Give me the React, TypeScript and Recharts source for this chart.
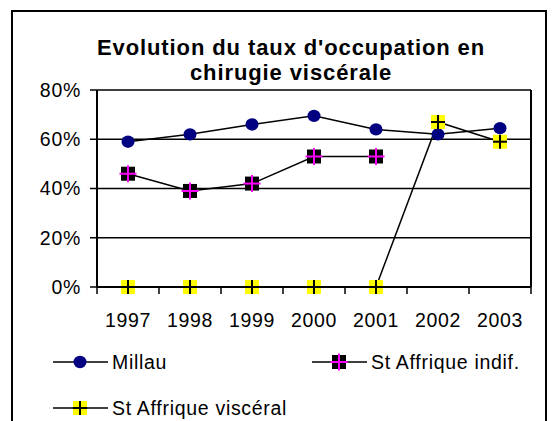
import React from "react";
import { LineChart, Line, XAxis, YAxis, CartesianGrid, ReferenceLine, Legend } from "recharts";

const years = ["1997", "1998", "1999", "2000", "2001", "2002", "2003"];
const millau = [59, 62, 66, 69.5, 64, 62, 64.5];
const stAffriqueIndif: (number | null)[] = [46, 39, 42, 53, 53, null, null];
const stAffriqueVisceral = [0, 0, 0, 0, 0, 67, 59];
const yTicks = [0, 20, 40, 60, 80];

const FONT = "'Liberation Sans', Arial, sans-serif";
const W = 553;
const H = 421;
const PLOT_LEFT = 97;
const PLOT_RIGHT = 531;
const HALF_STEP = (PLOT_RIGHT - PLOT_LEFT) / years.length / 2;

const data = years.map((year, i) => ({
  x: i + 0.5,
  year,
  millau: millau[i],
  indif: stAffriqueIndif[i],
  visceral: stAffriqueVisceral[i],
}));

const CircleDot = ({ cx, cy }: any) =>
  cx == null || cy == null ? null : <ellipse cx={cx} cy={cy} rx={6.5} ry={6.2} fill="#000080" />;

const IndifDot = ({ cx, cy }: any) =>
  cx == null || cy == null ? null : (
    <g>
      <rect x={cx - 7} y={cy - 7} width={14} height={14} fill="#000" />
      <line x1={cx - 8.5} x2={cx + 8.5} y1={cy} y2={cy} stroke="#ff00ff" strokeWidth={2} />
      <line x1={cx} x2={cx} y1={cy - 8.5} y2={cy + 8.5} stroke="#ff00ff" strokeWidth={2} />
    </g>
  );

const VisceralDot = ({ cx, cy }: any) =>
  cx == null || cy == null ? null : (
    <g>
      <rect x={cx - 7} y={cy - 7} width={14} height={14} fill="#ffff00" />
      <line x1={cx - 7} x2={cx + 7} y1={cy} y2={cy} stroke="#000" strokeWidth={2} />
      <line x1={cx} x2={cx} y1={cy - 7} y2={cy + 7} stroke="#000" strokeWidth={2} />
    </g>
  );

const LegendIcon = ({ Dot }: { Dot: React.FC<any> }) => (
  <svg width={55} height={22} style={{ display: "block" }}>
    <line x1={0} x2={55} y1={11} y2={11} stroke="#000" strokeWidth={1.5} />
    <Dot cx={27} cy={11} />
  </svg>
);

const legendItems = [
  { name: "Millau", Dot: CircleDot, left: 53, top: 351 },
  { name: "St Affrique indif.", Dot: IndifDot, left: 312, top: 351 },
  { name: "St Affrique viscéral", Dot: VisceralDot, left: 53, top: 397 },
];

const renderLegend = () => (
  <div style={{ position: "relative", width: W, height: 80 }}>
    {legendItems.map((it) => (
      <div
        key={it.name}
        style={{
          position: "absolute",
          left: it.left,
          top: it.top - 340,
          display: "flex",
          alignItems: "center",
          gap: 4,
          fontFamily: FONT,
          fontSize: 19.5,
          letterSpacing: 0.7,
          color: "#000",
          lineHeight: "22px",
          whiteSpace: "nowrap",
        }}
      >
        <LegendIcon Dot={it.Dot} />
        <span>{it.name}</span>
      </div>
    ))}
  </div>
);

export default function App() {
  return (
    <div style={{ position: "relative", width: W, height: H, overflow: "hidden", background: "#fff" }}>
      <style>{"body{margin:0}"}</style>
      <div
        style={{
          position: "absolute",
          left: 11,
          top: 10,
          width: 536,
          height: 430,
          border: "2px solid #000",
          boxSizing: "border-box",
        }}
      />
      <div
        style={{
          position: "absolute",
          left: 91,
          top: 34.5,
          width: 400,
          textAlign: "center",
          fontFamily: FONT,
          fontWeight: "bold",
          fontSize: 22,
          letterSpacing: 0.9,
          lineHeight: "25px",
          color: "#000",
          whiteSpace: "nowrap",
        }}
      >
        Evolution du taux d'occupation en
        <br />
        chirugie viscérale
      </div>
      <div style={{ position: "absolute", left: 0, top: 0 }}>
        <LineChart
          width={W}
          height={H}
          data={data}
          margin={{ top: 90, right: W - PLOT_RIGHT, bottom: 94, left: 0 }}
        >
          <CartesianGrid horizontal vertical={false} stroke="#000" strokeWidth={1.5} />
          <XAxis
            dataKey="x"
            type="number"
            domain={[0, years.length]}
            ticks={years.map((_, i) => i).concat(years.length)}
            tickFormatter={(v: number) => years[v] ?? ""}
            height={40}
            axisLine={{ stroke: "#000", strokeWidth: 2 }}
            tickLine={{ stroke: "#000", strokeWidth: 1.5 }}
            tickSize={7}
            tickMargin={19}
            tick={{ fill: "#000", fontSize: 19.5, fontFamily: FONT, letterSpacing: 0.7, dx: HALF_STEP }}
            interval={0}
          />
          <YAxis
            domain={[0, 80]}
            ticks={yTicks}
            tickFormatter={(v: number) => `${v}%`}
            width={PLOT_LEFT}
            axisLine={{ stroke: "#000", strokeWidth: 2 }}
            tickLine={{ stroke: "#000", strokeWidth: 1.5 }}
            tickSize={7}
            tickMargin={9}
            tick={{ fill: "#000", fontSize: 19.5, fontFamily: FONT, letterSpacing: 0.7 }}
            interval={0}
          />
          <ReferenceLine x={years.length} stroke="#000" strokeWidth={2} />
          <Legend
            layout="horizontal"
            verticalAlign="middle"
            align="center"
            wrapperStyle={{ top: 340, left: 0, width: W }}
            content={renderLegend}
          />
          <Line
            dataKey="millau"
            name="Millau"
            stroke="#000"
            strokeWidth={1.5}
            dot={<CircleDot />}
            isAnimationActive={false}
          />
          <Line
            dataKey="indif"
            name="St Affrique indif."
            stroke="#000"
            strokeWidth={1.5}
            dot={<IndifDot />}
            isAnimationActive={false}
          />
          <Line
            dataKey="visceral"
            name="St Affrique viscéral"
            stroke="#000"
            strokeWidth={1.5}
            dot={<VisceralDot />}
            isAnimationActive={false}
          />
        </LineChart>
      </div>
    </div>
  );
}
